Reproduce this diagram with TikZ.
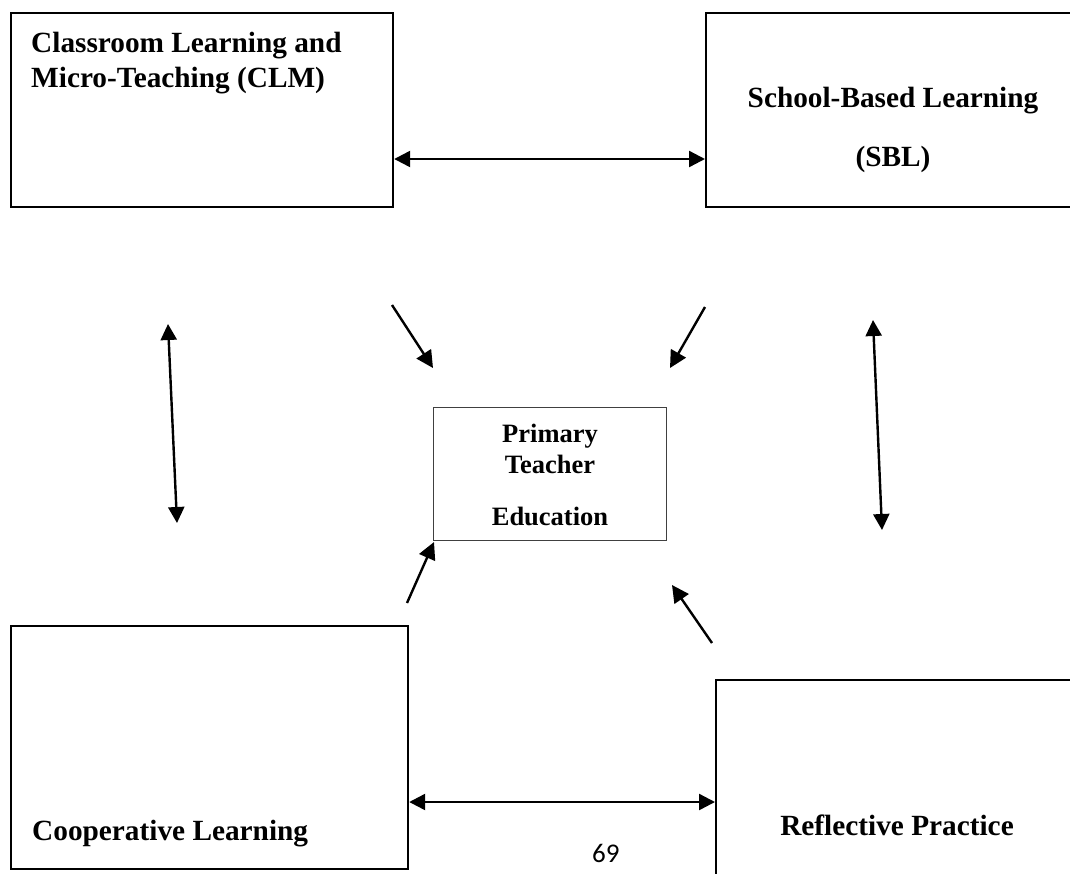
\documentclass[tikz,border=0pt]{standalone}
\usepackage{fontspec}
\setmainfont{Liberation Serif}
\newfontfamily\pagenumfont{Carlito}
\usetikzlibrary{arrows.meta}
\begin{document}
\begin{tikzpicture}[x=1pt,y=-1pt,
  bigbox/.style={draw,line width=2.2pt,inner sep=0pt},
  midbox/.style={draw=black!75,line width=1.3pt,inner sep=0pt},
  lbl/.style={inner sep=0pt,font=\bfseries\fontsize{29.3}{35}\selectfont},
  mlbl/.style={inner sep=0pt,font=\bfseries\fontsize{26.5}{31}\selectfont},
  conn/.style={line width=2.4pt,-{Triangle[length=17pt,width=17pt]}},
  biconn/.style={line width=2.4pt,{Triangle[length=16pt,width=16pt]}-{Triangle[length=16pt,width=16pt]}}]
\useasboundingbox (0,0) rectangle (1070,873);
\clip (0,0) rectangle (1070,873);
% boxes
\node[bigbox,minimum width=382.5pt,minimum height=194pt,anchor=north west] (clm) at (9.5,12) {};
\node[bigbox,minimum width=400pt,minimum height=194pt,anchor=north west] (sbl) at (705,12) {};
\node[midbox,minimum width=233pt,minimum height=133pt,anchor=north west] (pte) at (433,407) {};
\node[bigbox,minimum width=397pt,minimum height=243pt,anchor=north west] (coop) at (10,625) {};
\node[bigbox,minimum width=400pt,minimum height=240pt,anchor=north west] (refl) at (715,679) {};
% labels
\node[lbl,anchor=base west] (clm1) at (31,52) {Classroom Learning and};
\node[lbl,anchor=base west] (clm2) at (31,87) {Micro-Teaching (CLM)};
\node[lbl,anchor=base] (sbl1) at (893,107) {School-Based Learning};
\node[lbl,anchor=base] (sbl2) at (893,166) {(SBL)};
\node[mlbl,anchor=base] (pte1) at (550,442) {Primary};
\node[mlbl,anchor=base] (pte2) at (550,473) {Teacher};
\node[mlbl,anchor=base] (pte3) at (550,525) {Education};
\node[lbl,anchor=base west] (coop1) at (32,840) {Cooperative Learning};
\node[lbl,anchor=base] (refl1) at (897,835) {Reflective Practice};
\node[inner sep=0pt,anchor=base west,font=\pagenumfont\fontsize{27}{32}\selectfont] (pnum) at (592,862) {69};
% helper coordinates
\coordinate (ytop) at (0,159);
\coordinate (ybot) at (0,802);
\coordinate (lvt) at (168,324);
\coordinate (lvb) at (177,523);
\coordinate (rvt) at (873,320);
\coordinate (rvb) at (882,530);
\coordinate (tl0) at (392,305);
\coordinate (tl1) at (433,368);
\coordinate (tr0) at (705,307);
\coordinate (tr1) at (670,368);
\coordinate (bl0) at (407,603);
\coordinate (bl1) at (434,542);
\coordinate (br0) at (712,643);
\coordinate (br1) at (672,585);
% connectors
\draw[biconn] (clm.east |- ytop) -- (sbl.west |- ytop);
\draw[biconn] (coop.east |- ybot) -- (refl.west |- ybot);
\draw[biconn] (lvt) -- (lvb);
\draw[biconn] (rvt) -- (rvb);
\draw[conn] (tl0) -- (tl1);
\draw[conn] (tr0) -- (tr1);
\draw[conn] (bl0) -- (bl1);
\draw[conn] (br0) -- (br1);
\end{tikzpicture}
\end{document}
